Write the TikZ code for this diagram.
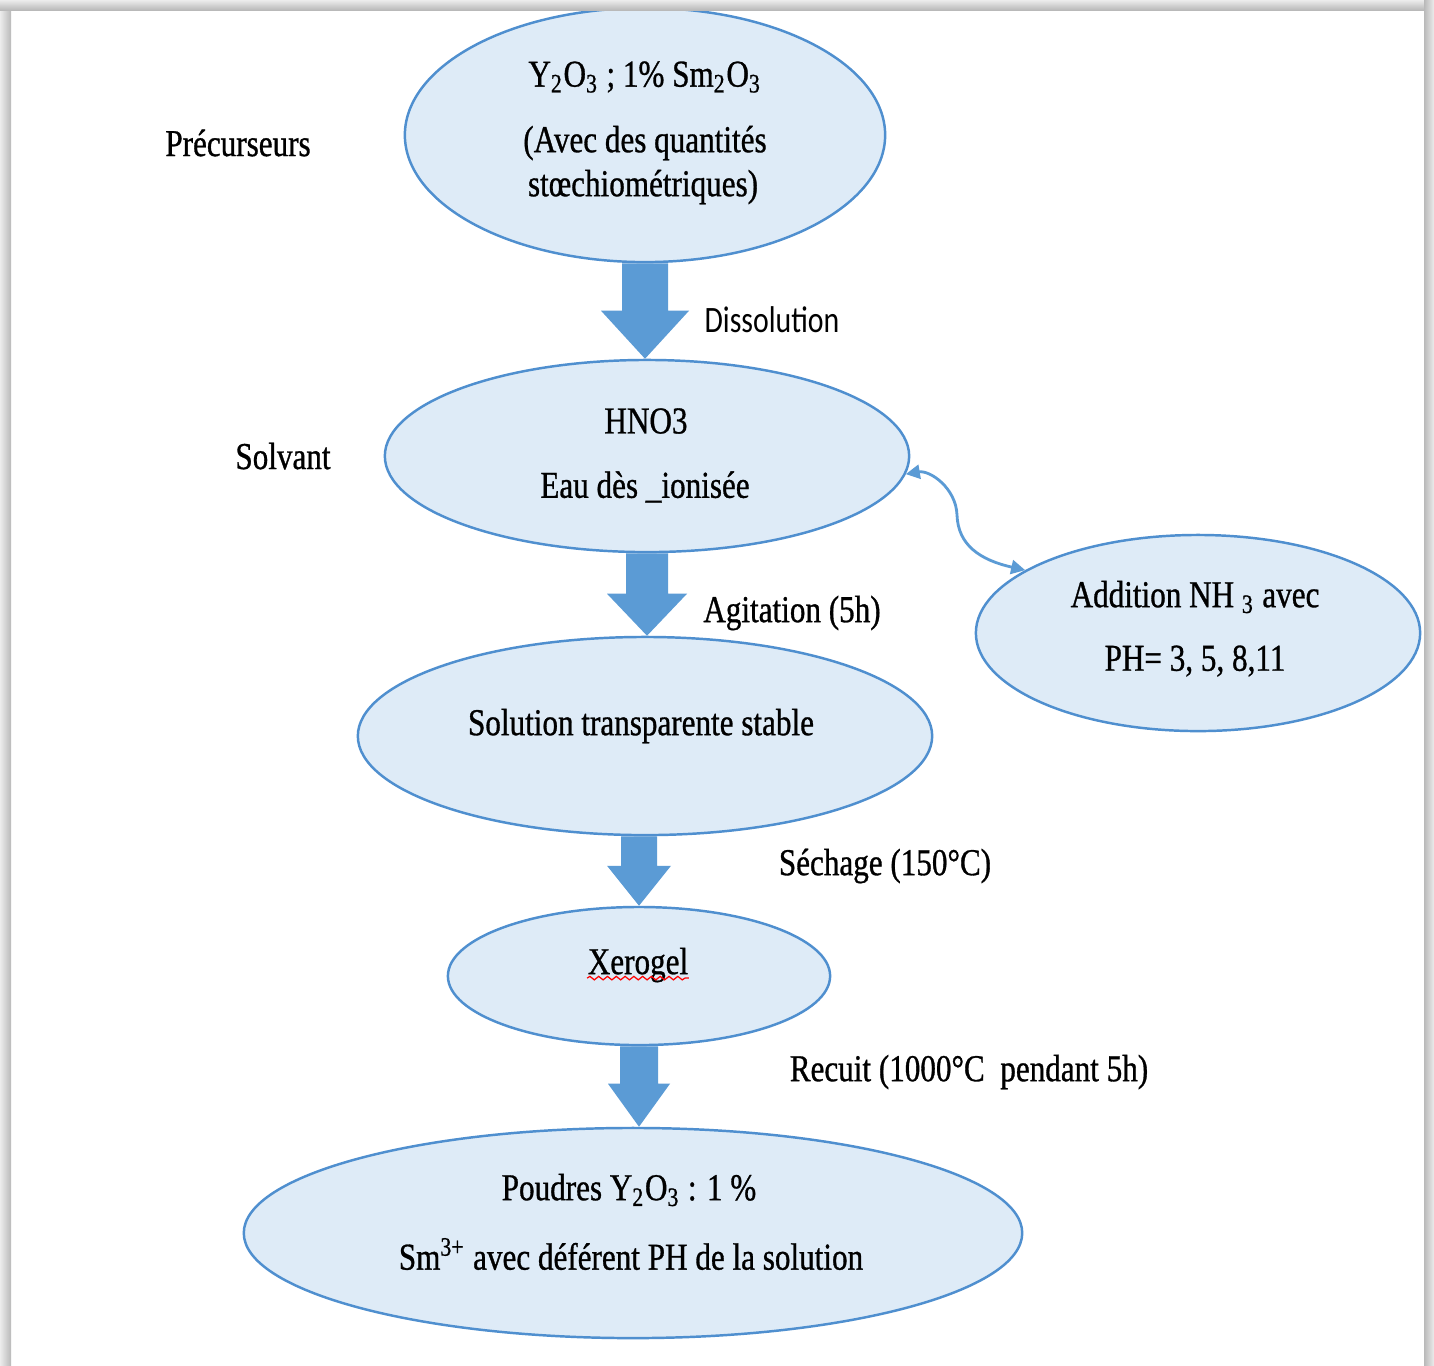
\documentclass[tikz,border=0pt]{standalone}
\usepackage{fontspec}
\setmainfont{Liberation Serif}[FakeStretch=0.82,FakeBold=0.8]
\newfontfamily\calib{Carlito}[FakeStretch=0.8]
\usetikzlibrary{shapes.geometric,calc,arrows.meta,decorations.pathmorphing}
\definecolor{efill}{HTML}{DEEBF7}
\definecolor{eline}{HTML}{4F8FCF}
\definecolor{afill}{HTML}{5B9BD5}
\newcommand\blockarr[5]{%
  \fill[afill] ($(#1)+(-#3,0)$) -- ($(#1)+(#3,0)$) -- ($(#2)+(#3,-#5)$) -- ($(#2)+(#4,-#5)$)
    -- (#2) -- ($(#2)+(-#4,-#5)$) -- ($(#2)+(-#3,-#5)$) -- cycle;}
\begin{document}
\begin{tikzpicture}[x=0.01cm,y=-0.01cm,
  bubble/.style={ellipse,draw=eline,fill=efill,line width=0.7pt,inner sep=0pt},
  txt/.style={font=\fontsize{10.8}{13}\selectfont,inner sep=0pt},
  sans/.style={font=\calib\fontsize{10.6}{13}\selectfont,inner sep=0pt},
  link/.style={draw=afill,line width=0.8pt,{Triangle[length=4pt,width=4pt]}-{Triangle[length=4pt,width=4pt]}}]
\useasboundingbox (0,0) rectangle (1434,1365);
\fill[white] (0,0) rectangle (1434,1365);

% ellipses
\node[bubble,minimum width=4.80cm,minimum height=2.54cm] (e1) at (645,135) {};
\node[bubble,minimum width=5.24cm,minimum height=1.92cm] (e2) at (647,456) {};
\node[bubble,minimum width=4.44cm,minimum height=1.96cm] (e3) at (1198,633) {};
\node[bubble,minimum width=5.74cm,minimum height=1.98cm] (e4) at (645,736) {};
\node[bubble,minimum width=3.82cm,minimum height=1.38cm] (e5) at (639,976) {};
\node[bubble,minimum width=7.78cm,minimum height=2.10cm] (e6) at (633,1233) {};

% block arrows
\coordinate (a1s) at (e1.south);
\coordinate (a1t) at (e1.south |- e2.north);
\blockarr{a1s}{a1t}{23}{44}{48}
\coordinate (a2s) at (e2.south);
\coordinate (a2t) at (e2.south |- e4.north);
\blockarr{a2s}{a2t}{21}{40}{42}
\coordinate (a3s) at (e5.north |- e4.south);
\coordinate (a3t) at (e5.north);
\blockarr{a3s}{a3t}{18}{32}{40}
\coordinate (a4s) at (e5.south);
\coordinate (a4t) at (e5.south |- e6.north);
\blockarr{a4s}{a4t}{19}{31}{43}

% curved double arrow
\coordinate (cm) at (957,515);
\draw[link] (e2.-4) .. controls (930,470) and (956,488) .. (cm)
  .. controls (958,545) and (980,560) .. (e3.160);

% texts inside ellipses
\node[txt] (t1a) at (645,77) {Y\textsubscript{2}O\textsubscript{3} ; 1\% Sm\textsubscript{2}O\textsubscript{3}};
\node[txt] (t1b) at (645,143) {(Avec des quantités};
\node[txt] (t1c) at (643,187) {stœchiométriques)};
\node[txt] (t2a) at (646,421) {HNO3};
\node[txt] (t2b) at (645,487) {Eau dès \_ionisée};
\node[txt] (t3a) at (1195,597) {Addition NH \textsubscript{3} avec};
\node[txt] (t3b) at (1195,661) {PH= 3, 5, 8,11};
\node[txt] (t4) at (641,726) {Solution transparente stable};
\node[txt] (t5) at (638,965) {Xerogel};
\draw[red,line width=0.35pt,decorate,decoration={snake,amplitude=0.5pt,segment length=2.5pt}]
  ($(t5.base west)+(0,4)$) -- ($(t5.base east)+(0,4)$);
\node[txt] (t6a) at (629,1190) {Poudres Y\textsubscript{2}O\textsubscript{3} : 1 \%};
\node[txt] (t6b) at (631,1254) {Sm\textsuperscript{3+} avec déférent PH de la solution};

% side labels
\node[txt] (lp) at (238,143) {Précurseurs};
\node[txt] (ls) at (283,456) {Solvant};
\node[sans] (ld) at (772,320) {Dissolution};
\node[txt] (la) at (792,613) {Agitation (5h)};
\node[txt] (lsc) at (885,866) {Séchage (150°C)};
\node[txt] (lr) at (969,1072) {Recuit (1000°C\ \ pendant 5h)};

% frame shadow
\shade[left color=gray!15,right color=gray!55] (0,0) rectangle (11,1365);
\shade[top color=gray!15,bottom color=gray!55] (0,0) rectangle (1434,10);
\shade[left color=gray!55,right color=gray!15] (1424,0) rectangle (1434,1365);
\end{tikzpicture}
\end{document}
